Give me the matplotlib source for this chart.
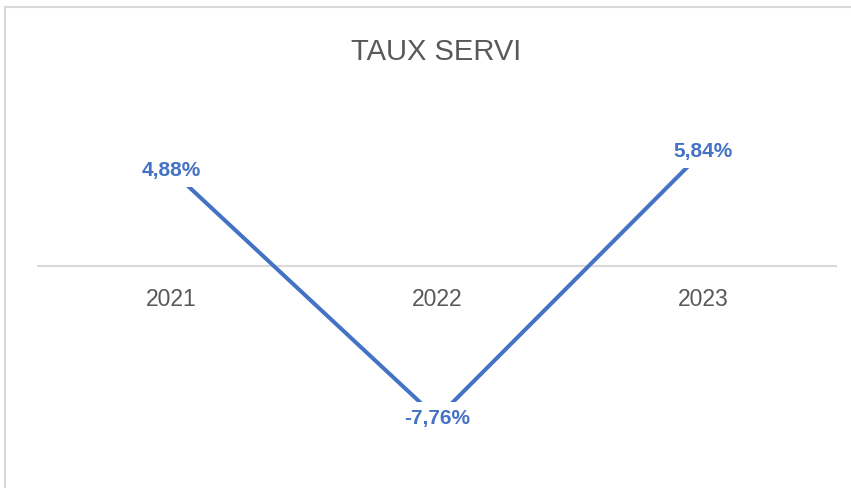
import matplotlib.pyplot as plt
from matplotlib.patches import Rectangle

# data
years = ["2021", "2022", "2023"]
taux = [4.88, -7.76, 5.84]
labels = ["4,88%", "-7,76%", "5,84%"]

BLUE = "#4472C4"
GREY_TXT = "#595959"
GREY_LINE = "#D9D9D9"

plt.rcParams["font.family"] = ["Liberation Sans", "DejaVu Sans"]

fig = plt.figure(figsize=(8.51, 4.88), dpi=100)

# chart border (only top / left visible in the screenshot)
fig.patches.append(Rectangle((5 / 851, -0.1), 1.2, (488 - 7) / 488 + 0.1,
                             transform=fig.transFigure, fill=False,
                             edgecolor=GREY_LINE, linewidth=1.5))

ax = fig.add_axes([38 / 851, 1 - 462 / 488, (836 - 38) / 851, (462 - 109) / 488])

for s in ["top", "right", "left"]:
    ax.spines[s].set_visible(False)
ax.spines["bottom"].set_position(("data", 0))
ax.spines["bottom"].set_color(GREY_LINE)
ax.spines["bottom"].set_linewidth(1.5)
ax.spines["bottom"].set_zorder(1)

x = list(range(len(years)))
ax.plot(x, taux, color=BLUE, linewidth=2.9, solid_capstyle="butt", zorder=2)

for xi, v, lab in zip(x, taux, labels):
    ax.text(xi, v, lab, ha="center", va="center", color=BLUE,
            fontsize=15, fontweight="bold", zorder=3,
            bbox=dict(facecolor="white", edgecolor="none", pad=5))

ax.set_xlim(-0.5, 2.5)
ax.set_ylim(-10, 8)
ax.set_xticks(x)
ax.set_xticklabels(years)
ax.set_yticks([])
ax.tick_params(axis="x", length=0, pad=16, labelsize=16.5, labelcolor=GREY_TXT)

fig.text(436 / 851, 1 - 52 / 488, "TAUX SERVI", ha="center", va="center",
         fontsize=21, color=GREY_TXT,
         family=["Liberation Sans Narrow", "Liberation Sans", "DejaVu Sans"])

fig.savefig("out.png", dpi=100)
